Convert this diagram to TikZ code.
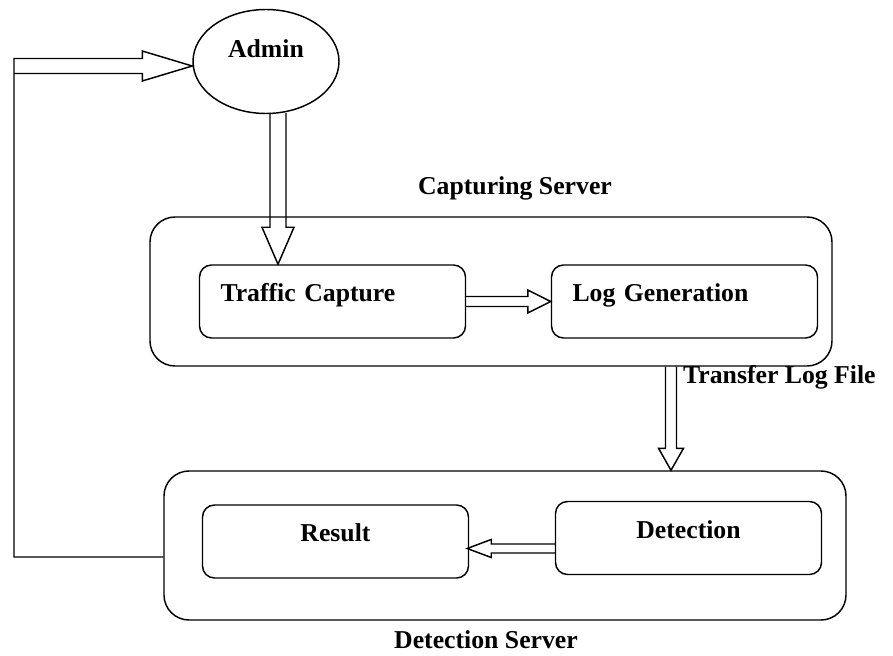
\documentclass[tikz,border=0pt]{standalone}
\usepackage{fontspec}
\setmainfont{Liberation Serif}
\usetikzlibrary{shapes.geometric, calc}

\begin{document}
\begin{tikzpicture}[x=0.75pt, y=-0.75pt, line width=1.1pt,
        outerbox/.style={draw, rounded corners=18.75pt, minimum width=511.5pt, minimum height=111.75pt},
        innerbox/.style={draw, rounded corners=9pt, minimum width=199.5pt, minimum height=54.75pt,
            inner xsep=15.75pt, text width=168pt, text height=14pt, text depth=14pt, font=\bfseries\fontsize{19.3}{22}\selectfont},
        lbl/.style={font=\bfseries\fontsize{19.3}{22}\selectfont}]
        \useasboundingbox (0, 0) rectangle (893, 656);
        \node[draw, ellipse, minimum width=109.5pt, minimum height=78pt, text height=14pt, text depth=20pt, lbl] (admin) at (266, 61.5) {Admin};
        \node[outerbox] (capsrv) at (491, 291.5) {};
        \node[outerbox] (detsrv) at (505, 545.5) {};
        \node[lbl] (caplbl) at (515, 188) {Capturing Server};
        \node[lbl] (detlbl) at (486, 640) {Detection Server};
        \node[lbl, anchor=west] (translbl) at (678, 377) {Transfer Log File};
        \node[innerbox, align=left] (tc) at (332.5, 301.5) {Traffic Capture};
        \node[innerbox, align=left] (lg) at (684.5, 301.5) {Log Generation};
        \node[innerbox, align=center] (det) at (688.5, 538) {Detection};
        \node[innerbox, align=center] (res) at (335.5, 541.5) {Result};
        % admin to traffic capture
        \coordinate (s1) at ($(admin.south)+(12, -1)$);
        \coordinate (t1) at (tc.north -| s1);
        \draw ($(s1)+(-8, 0)$) -- ($(t1)+(-8, -37)$) -- ($(t1)+(-16, -37)$) -- (t1)
            -- ($(t1)+(16, -37)$) -- ($(t1)+(8, -37)$) -- ($(s1)+(8, 0)$);
        % traffic capture to log generation
        \draw (tc.east) ++(0, -5) -- ($(lg.west)+(-23, -5)$) -- ($(lg.west)+(-23, -11.5)$) -- (lg.west)
            -- ($(lg.west)+(-23, 11.5)$) -- ($(lg.west)+(-23, 5)$) -- ($(tc.east)+(0, 5)$);
        % transfer log file
        \coordinate (s3) at ($(capsrv.south)+(180, 0)$);
        \coordinate (t3) at (s3 |- detsrv.north);
        \draw ($(s3)+(-5.5, 0)$) -- ($(t3)+(-5.5, -22)$) -- ($(t3)+(-12.5, -22)$) -- (t3)
            -- ($(t3)+(12.5, -22)$) -- ($(t3)+(5.5, -22)$) -- ($(s3)+(5.5, 0)$);
        % detection to result
        \coordinate (s4) at ($(det.west)+(0, 10.5)$);
        \coordinate (t4) at ($(res.east |- s4)+(-2, 0)$);
        \draw ($(s4)+(0, -4.5)$) -- ($(t4)+(24, -4.5)$) -- ($(t4)+(24, -9)$) -- (t4)
            -- ($(t4)+(24, 9)$) -- ($(t4)+(24, 4.5)$) -- ($(s4)+(0, 4.5)$);
        % feedback to admin
        \coordinate (t5) at ($(admin.west)+(0, 4.5)$);
        \draw ($(detsrv.west)+(0, 11.5)$) -- (14, 557) -- (14, 58.5) -- ($(t5)+(-50, -7.5)$) -- ($(t5)+(-50, -15)$) -- (t5)
            -- ($(t5)+(-50, 15)$) -- ($(t5)+(-50, 7.5)$) -- (14, 73.5);
    \end{tikzpicture}
\end{document}
